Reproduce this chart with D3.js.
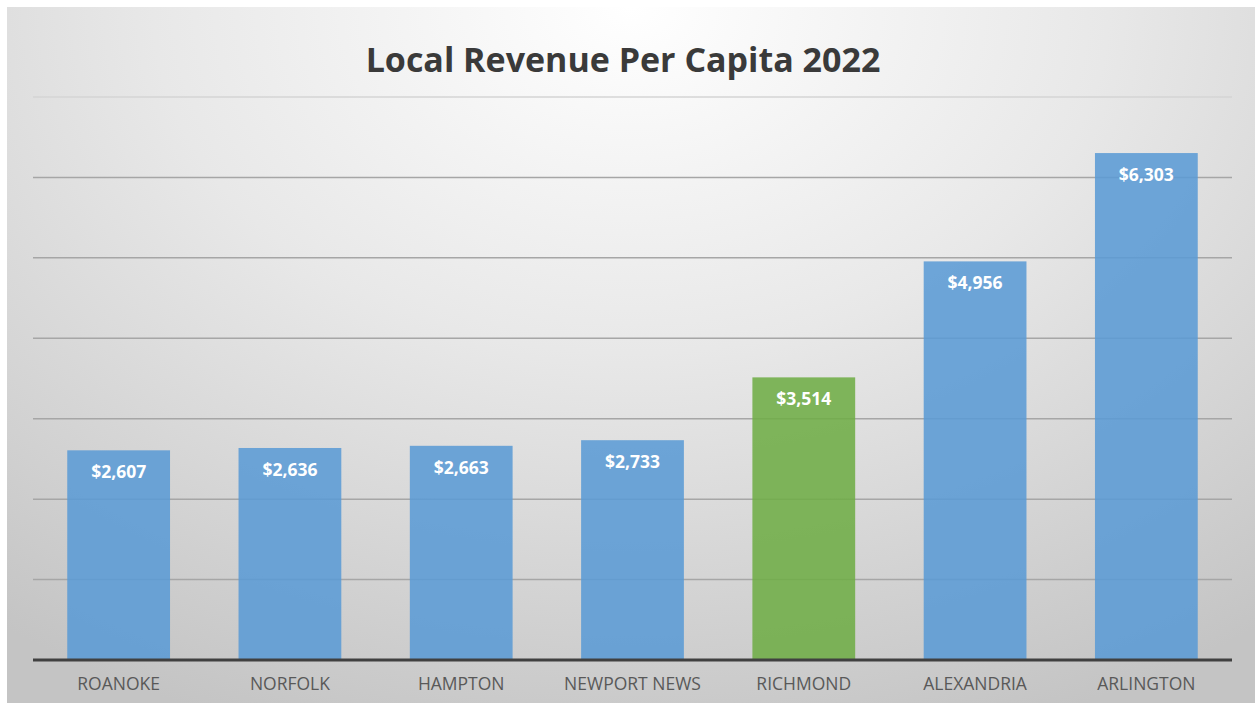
<!DOCTYPE html>
<html>
<head>
<meta charset="utf-8">
<script src="https://cdn.jsdelivr.net/npm/d3@7"></script>
<style>
  body { margin: 0; background: #fff; }
  svg { display: block; }
</style>
</head>
<body>
<div id="chart"></div>
<script>
// data
var cities = ["ROANOKE", "NORFOLK", "HAMPTON", "NEWPORT NEWS", "RICHMOND", "ALEXANDRIA", "ARLINGTON"];
var revenue = [2607, 2636, 2663, 2733, 3514, 4956, 6303];
var highlight = "RICHMOND";
var gridTicks = [1000, 2000, 3000, 4000, 5000, 6000, 7000];

var width = 1255, height = 706;
var margin = { top: 97, right: 23, bottom: 46, left: 33 };

var svg = d3.select("#chart")
    .append("svg")
    .attr("width", width)
    .attr("height", height);

// background gradient
var defs = svg.append("defs");
var grad = defs.append("radialGradient")
    .attr("id", "bg")
    .attr("cx", "50%").attr("cy", "0%")
    .attr("r", "85%")
    .attr("gradientTransform", "scale(1,1.3)");
grad.append("stop").attr("offset", "0%").attr("stop-color", "#ffffff");
grad.append("stop").attr("offset", "45%").attr("stop-color", "#e8e8e8");
grad.append("stop").attr("offset", "100%").attr("stop-color", "#c4c4c4");

svg.append("rect")
    .attr("x", 7).attr("y", 7)
    .attr("width", width - 7).attr("height", height - 10)
    .attr("fill", "url(#bg)");

// scales
var x = d3.scaleBand()
    .domain(cities)
    .range([margin.left, width - margin.right])
    .paddingInner(0.4)
    .paddingOuter(0.2);

var y = d3.scaleLinear()
    .domain([0, 7000])
    .range([height - margin.bottom, margin.top]);

// gridlines
svg.append("g")
    .selectAll("line")
    .data(gridTicks)
    .enter()
    .append("line")
    .attr("x1", margin.left)
    .attr("x2", width - margin.right)
    .attr("y1", function(d) { return y(d); })
    .attr("y2", function(d) { return y(d); })
    .attr("stroke", function(d) { return d == 7000 ? "#d4d4d4" : "#a6a6a6"; })
    .attr("stroke-width", 1.5);

// bars
svg.append("g")
    .selectAll("rect")
    .data(cities)
    .enter()
    .append("rect")
    .attr("x", function(d) { return x(d); })
    .attr("width", x.bandwidth())
    .attr("y", function(d, i) { return y(revenue[i]); })
    .attr("height", function(d, i) { return y(0) - y(revenue[i]); })
    .attr("fill", function(d) { return d == highlight ? "#70ad47" : "#5b9bd5"; })
    .attr("fill-opacity", 0.88);

// value labels
svg.append("g")
    .selectAll("text")
    .data(cities)
    .enter()
    .append("text")
    .attr("x", function(d) { return x(d) + x.bandwidth() / 2; })
    .attr("y", function(d, i) { return y(revenue[i]) + 28; })
    .attr("text-anchor", "middle")
    .attr("fill", "#ffffff")
    .style("font-family", "'Open Sans', sans-serif")
    .style("font-weight", "bold")
    .style("font-size", "17.5px")
    .text(function(d, i) { return "$" + d3.format(",")(revenue[i]); });

// baseline
svg.append("line")
    .attr("x1", margin.left)
    .attr("x2", width - margin.right)
    .attr("y1", y(0))
    .attr("y2", y(0))
    .attr("stroke", "#404040")
    .attr("stroke-width", 3);

// x axis labels
var xAxis = d3.axisBottom(x).tickSize(0).tickPadding(18);
var gx = svg.append("g")
    .attr("transform", "translate(0," + y(0) + ")")
    .call(xAxis);
gx.select(".domain").remove();
gx.selectAll("text")
    .attr("fill", "#595959")
    .style("font-family", "'Open Sans', sans-serif")
    .style("font-size", "17.5px");

// title
svg.append("text")
    .attr("x", 623)
    .attr("y", 72)
    .attr("text-anchor", "middle")
    .attr("fill", "#3a3a3a")
    .style("font-family", "'Open Sans', sans-serif")
    .style("font-weight", "bold")
    .style("font-size", "34px")
    .text("Local Revenue Per Capita 2022");
</script>
</body>
</html>
